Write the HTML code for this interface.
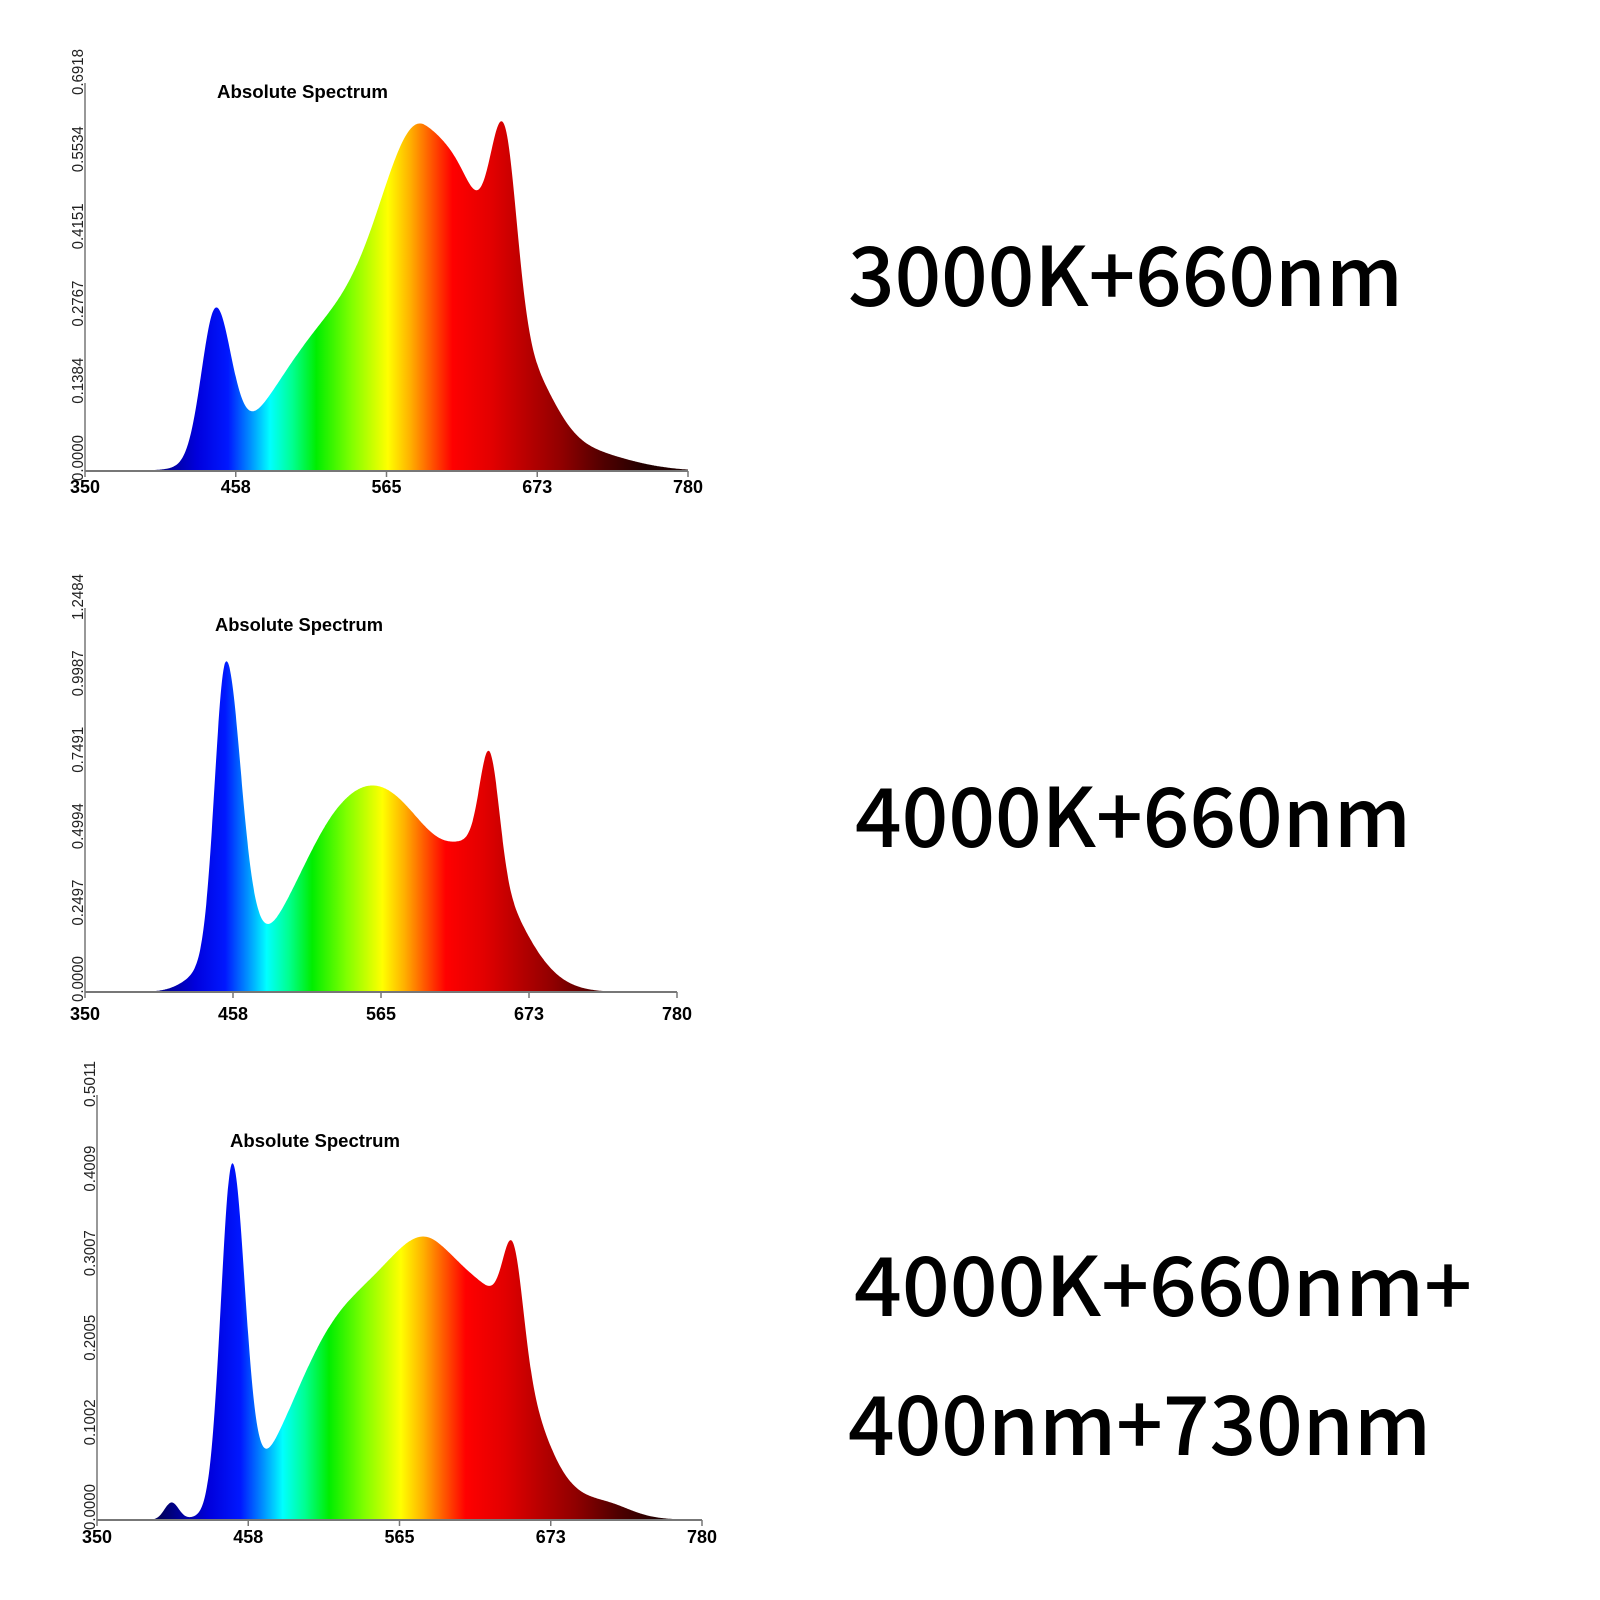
<!DOCTYPE html>
<html><head><meta charset="utf-8">
<style>html,body{margin:0;padding:0;background:#fff;width:1600px;height:1600px;overflow:hidden}</style>
</head><body>
<svg id="s" width="1600" height="1600" viewBox="0 0 1600 1600" xmlns="http://www.w3.org/2000/svg">
<g font-family="'Noto Sans CJK SC','DejaVu Sans',sans-serif" font-weight="500" font-size="82" fill="#000">
<text x="848" y="306" textLength="555" lengthAdjust="spacingAndGlyphs">3000K+660nm</text>
<text x="855" y="847" textLength="556" lengthAdjust="spacingAndGlyphs">4000K+660nm</text>
<text x="854" y="1316" textLength="618" lengthAdjust="spacingAndGlyphs">4000K+660nm+</text>
<text x="848" y="1455" textLength="583" lengthAdjust="spacingAndGlyphs">400nm+730nm</text>
</g>
</svg>
<script>
(function(){
var NS="http://www.w3.org/2000/svg",svg=document.getElementById('s');
function el(n,a,p){var e=document.createElementNS(NS,n);for(var k in a)e.setAttribute(k,a[k]);(p||svg).appendChild(e);return e;}
var stops=[[395,'#000060'],[410,'#00009a'],[430,'#0000dd'],[452,'#0018ff'],[468,'#0090ff'],[482,'#00ffff'],[498,'#00ff90'],[515,'#00ee00'],[540,'#80ff00'],[566,'#ffff00'],[582,'#ffb000'],[598,'#ff5000'],[612,'#ff0000'],[640,'#e20000'],[665,'#b80000'],[690,'#900000'],[720,'#500000'],[750,'#200000']];
var defs=el('defs',{});
function G(w,c,a,sl,sr){var s=w<c?sl:sr;var d=(w-c)/s;return a*Math.exp(-d*d/2);}
var charts=[
 {x0:85,x1:688,y0:471,y1:85,ticks:['0.0000','0.1384','0.2767','0.4151','0.5534','0.6918'],title:[217,98,171],xl:493,lblLen:30,
  comps:[[443,0.38,10,11],[525,0.35,40,40],[592,0.8,30,40],[625,0.12,15,15],[649,0.5,10,9],[668,0.12,15,18],[700,0.05,35,35]]},
 {x0:85,x1:677,y0:992,y1:610,ticks:['0.0000','0.2497','0.4994','0.7491','0.9987','1.2484'],title:[215,631,168],xl:1020,lblLen:30,
  comps:[[452,0.75,8,10],[440,0.05,15,15],[465,0.1,10,10],[535,0.36,38,42],[587,0.3,40,40],[644,0.29,7,7],[640,0.22,20,28]]},
 {x0:97,x1:702,y0:1520,y1:1097,ticks:['0.0000','0.1002','0.2005','0.3007','0.4009','0.5011'],title:[230,1147,170],xl:1543,lblLen:30,
  comps:[[403,0.04,5,5],[446,0.8,8,9],[520,0.4,35,35],[590,0.6,35,40],[646,0.22,7,7],[642,0.2,20,22],[690,0.03,30,30],[715,0.015,15,15]]}
];
charts.forEach(function(c,i){
 var sx=(c.x1-c.x0)/430,H=c.y0-c.y1;
 function X(w){return c.x0+(w-350)*sx;}
 var g=el('linearGradient',{id:'g'+i,gradientUnits:'userSpaceOnUse',x1:X(350),y1:0,x2:X(780),y2:0},defs);
 stops.forEach(function(s){el('stop',{offset:((s[0]-350)/430).toFixed(4),'stop-color':s[1]},g);});
 var d='M'+X(350)+','+c.y0;
 for(var w=350;w<=780;w+=0.5){var v=0;c.comps.forEach(function(p){v+=G(w,p[0],p[1],p[2],p[3]);});
  if(v<0.002)v=0;d+=' L'+X(w).toFixed(1)+','+(c.y0-v*H).toFixed(1);}
 d+=' L'+X(780)+','+c.y0+' Z';
 el('path',{d:d,fill:'url(#g'+i+')'});
 el('line',{x1:c.x0,y1:c.y1-2,x2:c.x0,y2:c.y0,stroke:'#777','stroke-width':1.5});
 el('line',{x1:c.x0,y1:c.y0,x2:c.x1,y2:c.y0,stroke:'#777','stroke-width':2});
 ['350','458','565','673','780'].forEach(function(t,k){var x=c.x0+k*(c.x1-c.x0)/4;
  el('line',{x1:x,y1:c.y0,x2:x,y2:c.y0+6,stroke:'#777','stroke-width':1.5});
  var tx=el('text',{x:x,y:c.xl,'text-anchor':'middle','font-family':'Liberation Sans,sans-serif','font-weight':'bold','font-size':18,textLength:c.lblLen,lengthAdjust:'spacingAndGlyphs',fill:'#000'});tx.textContent=t;});
 c.ticks.forEach(function(t,k){var y=c.y0-k*H/5-13;
  var tx=el('text',{x:0,y:0,transform:'translate('+(c.x0-2)+','+y+') rotate(-90)','text-anchor':'middle','font-family':'Liberation Sans,sans-serif','font-size':16,textLength:46,lengthAdjust:'spacingAndGlyphs',fill:'#222'});tx.textContent=t;});
 var tt=el('text',{x:c.title[0],y:c.title[1],'font-family':'Liberation Sans,sans-serif','font-weight':'bold','font-size':18,textLength:c.title[2],lengthAdjust:'spacingAndGlyphs',fill:'#000'});tt.textContent='Absolute Spectrum';
});
})();
</script>
</body></html>
